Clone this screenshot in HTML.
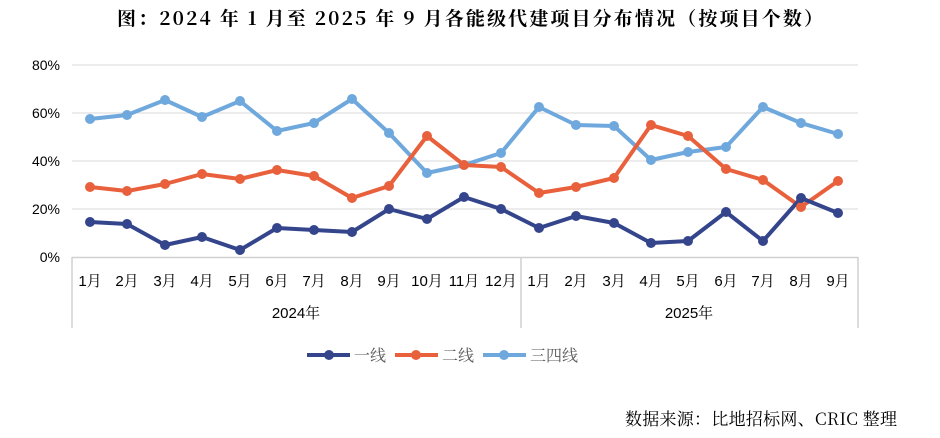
<!DOCTYPE html>
<html><head><meta charset="utf-8"><style>
body{margin:0;background:#fff;width:940px;height:438px;overflow:hidden}
svg{display:block}
.cj{font-family:"Liberation Sans","Noto Serif CJK SC",serif}
</style></head><body>
<svg width="940" height="438" xmlns="http://www.w3.org/2000/svg">
<text x="117" y="25" textLength="706" lengthAdjust="spacing" font-family="'Noto Serif CJK SC',serif" font-weight="bold" font-size="19" fill="#000">图：2024 年 1 月至 2025 年 9 月各能级代建项目分布情况（按项目个数）</text>
<g stroke="#d9d9d9" stroke-width="1">
<line x1="72" y1="65" x2="858" y2="65"/><line x1="72" y1="113" x2="858" y2="113"/><line x1="72" y1="161" x2="858" y2="161"/><line x1="72" y1="209" x2="858" y2="209"/>
</g>
<g stroke="#d0d0d0" stroke-width="1.5" fill="none">
<line x1="72" y1="257.5" x2="858" y2="257.5"/>
<line x1="72" y1="257" x2="72" y2="328"/><line x1="521" y1="257" x2="521" y2="328"/><line x1="858" y1="257" x2="858" y2="328"/>
</g>
<g font-family="'Liberation Sans',sans-serif" font-size="14" fill="#000" text-anchor="end">
<text x="60" y="70">80%</text><text x="60" y="118">60%</text><text x="60" y="166">40%</text><text x="60" y="214">20%</text><text x="60" y="262">0%</text>
</g>
<g class="cj" font-size="15" fill="#000" text-anchor="middle">
<text x="90" y="286">1月</text><text x="127" y="286">2月</text><text x="165" y="286">3月</text><text x="202" y="286">4月</text><text x="240" y="286">5月</text><text x="277" y="286">6月</text><text x="314" y="286">7月</text><text x="352" y="286">8月</text><text x="389" y="286">9月</text><text x="427" y="286">10月</text><text x="464" y="286">11月</text><text x="501" y="286">12月</text>
<text x="539" y="286">1月</text><text x="576" y="286">2月</text><text x="614" y="286">3月</text><text x="651" y="286">4月</text><text x="688" y="286">5月</text><text x="726" y="286">6月</text><text x="763" y="286">7月</text><text x="801" y="286">8月</text><text x="838" y="286">9月</text>
<text x="296" y="318">2024年</text><text x="689" y="318">2025年</text>
</g>
<g fill="none" stroke-width="4" stroke-linejoin="round">
<polyline stroke="#6fa8dc" points="90,119 127,115 165,100 202,117 240,101 277,131 314,123 352,99 389,133 427,173 464,165 501,153 539,107 576,125 614,126 651,160 688,152 726,147 763,107 801,123 838,134"/>
<polyline stroke="#e8603c" points="90,187 127,191 165,184 202,174 240,179 277,170 314,176 352,198 389,186 427,136 464,165 501,167 539,193 576,187 614,178 651,125 688,136 726,169 763,180 801,207 838,181"/>
<polyline stroke="#34458c" points="90,222 127,224 165,245 202,237 240,250 277,228 314,230 352,232 389,209 427,219 464,197 501,209 539,228 576,216 614,223 651,243 688,241 726,212 763,241 801,198 838,213"/>
</g>
<g fill="#6fa8dc"><circle cx="90" cy="119" r="5"/><circle cx="127" cy="115" r="5"/><circle cx="165" cy="100" r="5"/><circle cx="202" cy="117" r="5"/><circle cx="240" cy="101" r="5"/><circle cx="277" cy="131" r="5"/><circle cx="314" cy="123" r="5"/><circle cx="352" cy="99" r="5"/><circle cx="389" cy="133" r="5"/><circle cx="427" cy="173" r="5"/><circle cx="464" cy="165" r="5"/><circle cx="501" cy="153" r="5"/><circle cx="539" cy="107" r="5"/><circle cx="576" cy="125" r="5"/><circle cx="614" cy="126" r="5"/><circle cx="651" cy="160" r="5"/><circle cx="688" cy="152" r="5"/><circle cx="726" cy="147" r="5"/><circle cx="763" cy="107" r="5"/><circle cx="801" cy="123" r="5"/><circle cx="838" cy="134" r="5"/></g>
<g fill="#e8603c"><circle cx="90" cy="187" r="5"/><circle cx="127" cy="191" r="5"/><circle cx="165" cy="184" r="5"/><circle cx="202" cy="174" r="5"/><circle cx="240" cy="179" r="5"/><circle cx="277" cy="170" r="5"/><circle cx="314" cy="176" r="5"/><circle cx="352" cy="198" r="5"/><circle cx="389" cy="186" r="5"/><circle cx="427" cy="136" r="5"/><circle cx="464" cy="165" r="5"/><circle cx="501" cy="167" r="5"/><circle cx="539" cy="193" r="5"/><circle cx="576" cy="187" r="5"/><circle cx="614" cy="178" r="5"/><circle cx="651" cy="125" r="5"/><circle cx="688" cy="136" r="5"/><circle cx="726" cy="169" r="5"/><circle cx="763" cy="180" r="5"/><circle cx="801" cy="207" r="5"/><circle cx="838" cy="181" r="5"/></g>
<g fill="#34458c"><circle cx="90" cy="222" r="5"/><circle cx="127" cy="224" r="5"/><circle cx="165" cy="245" r="5"/><circle cx="202" cy="237" r="5"/><circle cx="240" cy="250" r="5"/><circle cx="277" cy="228" r="5"/><circle cx="314" cy="230" r="5"/><circle cx="352" cy="232" r="5"/><circle cx="389" cy="209" r="5"/><circle cx="427" cy="219" r="5"/><circle cx="464" cy="197" r="5"/><circle cx="501" cy="209" r="5"/><circle cx="539" cy="228" r="5"/><circle cx="576" cy="216" r="5"/><circle cx="614" cy="223" r="5"/><circle cx="651" cy="243" r="5"/><circle cx="688" cy="241" r="5"/><circle cx="726" cy="212" r="5"/><circle cx="763" cy="241" r="5"/><circle cx="801" cy="198" r="5"/><circle cx="838" cy="213" r="5"/></g>
<g stroke-width="4">
<line x1="307" y1="355" x2="350" y2="355" stroke="#34458c"/><circle cx="329" cy="355" r="5" fill="#34458c"/>
<line x1="395" y1="355" x2="438" y2="355" stroke="#e8603c"/><circle cx="416" cy="355" r="5" fill="#e8603c"/>
<line x1="483" y1="355" x2="526" y2="355" stroke="#6fa8dc"/><circle cx="504" cy="355" r="5" fill="#6fa8dc"/>
</g>
<g font-family="'Noto Serif CJK SC',serif" font-size="16" fill="#595959">
<text x="354" y="361">一线</text><text x="442" y="361">二线</text><text x="530" y="361">三四线</text>
</g>
<text x="625" y="425" textLength="272" lengthAdjust="spacing" font-family="'Noto Serif CJK SC',serif" font-size="17" fill="#000">数据来源：比地招标网、CRIC 整理</text>
</svg>
</body></html>
